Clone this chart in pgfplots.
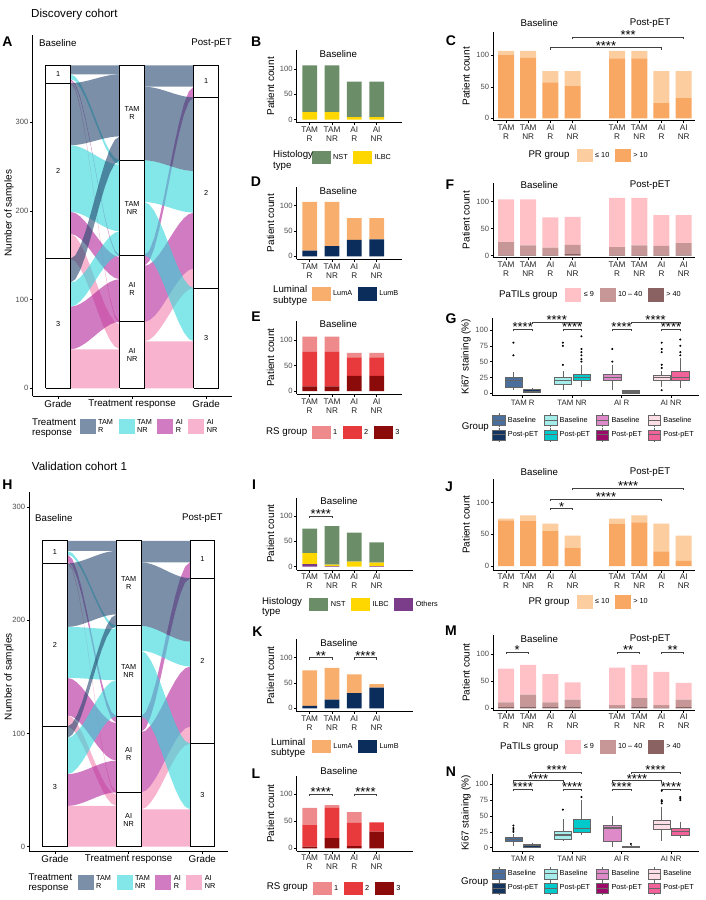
\documentclass[border=0pt]{standalone}
\usepackage{fontspec}
\setmainfont{Liberation Sans}
\usepackage{pgfplots}
\pgfplotsset{compat=1.18}
\usepackage{pgfplotstable}
\usepgfplotslibrary{statistics}

\definecolor{cTR}{HTML}{23456E}
\definecolor{cTN}{HTML}{30D5D8}
\definecolor{cAR}{HTML}{B2239A}
\definecolor{cAN}{HTML}{F382AF}
\definecolor{nst}{HTML}{6B8E69}
\definecolor{ilbc}{HTML}{FFD700}
\definecolor{oth}{HTML}{7B3C8A}
\definecolor{luma}{HTML}{F8AE6C}
\definecolor{lumb}{HTML}{0B2D5B}
\definecolor{rs1}{HTML}{EE8A8C}
\definecolor{rs2}{HTML}{E83A3C}
\definecolor{rs3}{HTML}{8B0A0A}
\definecolor{prlo}{HTML}{FBCD9F}
\definecolor{prhi}{HTML}{F8A862}
\definecolor{ptl}{HTML}{FFC0C6}
\definecolor{ptm}{HTML}{C79797}
\definecolor{pth}{HTML}{8B6262}
\definecolor{bxTRb}{HTML}{4A6F9C}
\definecolor{bxTRp}{HTML}{13355F}
\definecolor{bxTNb}{HTML}{A4EDEA}
\definecolor{bxTNp}{HTML}{00C9CC}
\definecolor{bxARb}{HTML}{DE8AC8}
\definecolor{bxARp}{HTML}{9C0A6A}
\definecolor{bxANb}{HTML}{FDDDE6}
\definecolor{bxANp}{HTML}{F2629A}

% template of one alluvial ribbon (unit shape)
\pgfplotstableread{
t s side
0 0 0
0.1 0.028 0
0.2 0.104 0
0.3 0.216 0
0.4 0.352 0
0.5 0.5 0
0.6 0.648 0
0.7 0.784 0
0.8 0.896 0
0.9 0.972 0
1 1 0
1 1 1
0.9 0.972 1
0.8 0.896 1
0.7 0.784 1
0.6 0.648 1
0.5 0.5 1
0.4 0.352 1
0.3 0.216 1
0.2 0.104 1
0.1 0.028 1
0 0 1
}\flowshape

% colour, x start, y start, y end, count
\newcommand{\alflow}[5]{\addplot[fill=#1, fill opacity=0.6, draw=none, forget plot] table[x expr={#2+\thisrow{t}*0.6667}, y expr={#3+\thisrow{side}*#5+\thisrow{s}*(#4-#3)}] {\flowshape};}
% x left, x right, y bottom, y top
\newcommand{\alstrat}[4]{\addplot[draw=black, fill=white, line width=0.6pt, forget plot] coordinates {(#1,#3) (#2,#3) (#2,#4) (#1,#4) (#1,#3)};}
% box: position, lower whisker, lower quartile, median, upper quartile, upper whisker, fill, outliers
\newcommand{\bx}[8]{\addplot[bxs, fill=#7, boxplot prepared={draw direction=y, draw position=#1, lower whisker=#2, lower quartile=#3, median=#4, upper quartile=#5, upper whisker=#6}] coordinates {#8};}

\pgfplotsset{
  gg/.style={
    scale only axis, clip=false,
    axis x line*=bottom, axis y line*=left,
    axis line style={black, line width=0.6pt},
    tick align=outside, major tick length=2.5pt,
    tick style={black, line width=0.5pt},
    /pgf/number format/assume math mode=true,
    yticklabel style={font=\fontsize{7.6}{8}\selectfont, text=black!70, inner sep=1.5pt},
    xticklabel style={font=\fontsize{8.2}{9}\selectfont, text=black!85, align=center, inner sep=1.5pt},
    legend style={draw=none, fill=none, inner sep=0pt, anchor=west,
       font=\fontsize{7.3}{8}\selectfont,
       nodes={inner xsep=2.5pt, inner ysep=1pt},
       /tikz/every even column/.append style={column sep=3pt}},
    legend columns=-1, legend cell align=left,
  },
  barax/.style={gg, ybar stacked, bar width=0.66, ytick={0,50,100},
    xtick={1,2,3,4}, xticklabels={TAM\\R,TAM\\NR,AI\\R,AI\\NR}, reverse legend},
  prax/.style={gg, ybar stacked, bar width=0.72, ytick={0,50,100}, xmin=0.428, xmax=9.51,
    xtick={1,2,3,4,6,7,8,9}, xticklabels={TAM\\R,TAM\\NR,AI\\R,AI\\NR,TAM\\R,TAM\\NR,AI\\R,AI\\NR}, reverse legend},
  ovl/.style={scale only axis, clip=false, hide axis},
  br/.style={black!75, line width=0.5pt, forget plot, mark=none},
  keyBar/.style={legend image code/.code={\fill[##1] (0pt,-6.75pt) rectangle (19pt,6.75pt);}},
  keyPR/.style={legend image code/.code={\fill[##1] (0pt,-6.75pt) rectangle (16pt,6.75pt);}},
  keyAl/.style={legend image code/.code={\fill[##1] (0pt,-7.5pt) rectangle (16pt,7.5pt);}},
  keyBox/.style={legend image code/.code={\draw[##1] (0pt,-5pt) rectangle (12.4pt,5pt); \draw[black!60, line width=1pt] (0pt,0pt) -- (12.4pt,0pt); \draw[black!60] (6.2pt,5pt) -- (6.2pt,7pt) (6.2pt,-5pt) -- (6.2pt,-7pt);}},
  bxs/.style={forget plot, draw=black!60, line width=0.5pt, solid, mark=*, mark size=0.75pt, mark options={fill=black, draw=black}, boxplot/draw direction=y, boxplot/box extend=0.35, boxplot/whisker extend=0, boxplot/every median/.style={line width=1.3pt}},
}
\tikzset{
  st/.style={anchor=base, yshift=-2.6pt, inner sep=0pt, font=\fontsize{13}{13}\selectfont},
  ttl/.style={font=\fontsize{9.7}{10.5}\selectfont, inner sep=0pt},
  ylab/.style={font=\fontsize{10}{11}\selectfont, rotate=90, inner sep=0pt},
  pl/.style={font=\bfseries\fontsize{14}{14}\selectfont, inner sep=0pt},
  lgt/.style={font=\fontsize{9.7}{10.5}\selectfont, anchor=west, align=left, inner sep=0pt},
  sl/.style={font=\fontsize{7.3}{8}\selectfont, align=center, inner sep=0pt},
}

\begin{document}
\begin{tikzpicture}[x=1pt,y=1pt]
\path[use as bounding box] (0pt,0pt) rectangle (706pt,-900pt);

% ================= A =================
\begin{axis}[gg, at={(32.5pt,-396pt)}, anchor=south west, width=199.5pt, height=361pt,
  xmin=0.655, xmax=3.35, ymin=-8.7, ymax=398.3,
  xtick={1,2,3}, xticklabels={Grade,Treatment response,Grade},
  xticklabel style={font=\fontsize{9.8}{11}\selectfont, text=black},
  ytick={0,100,200,300},
  legend style={at={(0.2356,-0.0845)}, anchor=west}]
\alflow{cAN}{1.1667}{0}{0}{44}
\alflow{cAN}{1.1667}{146}{44}{28}
\alflow{cAN}{1.1667}{344}{72}{3}
\alflow{cAR}{1.1667}{44}{75}{48}
\alflow{cAR}{1.1667}{174}{123}{25}
\alflow{cAR}{1.1667}{347}{148}{2}
\alflow{cTN}{1.1667}{92}{150}{27}
\alflow{cTN}{1.1667}{199}{177}{75}
\alflow{cTN}{1.1667}{349}{252}{5}
\alflow{cTR}{1.1667}{119}{257}{27}
\alflow{cTR}{1.1667}{274}{284}{70}
\alflow{cTR}{1.1667}{354}{354}{10}
\alflow{cAN}{2.1667}{0}{0}{53}
\alflow{cAN}{2.1667}{53}{113}{22}
\alflow{cAR}{2.1667}{75}{135}{63}
\alflow{cAR}{2.1667}{138}{328}{12}
\alflow{cTN}{2.1667}{150}{53}{60}
\alflow{cTN}{2.1667}{210}{198}{47}
\alflow{cTR}{2.1667}{257}{245}{83}
\alflow{cTR}{2.1667}{340}{340}{24}
\alstrat{0.8333}{1.1667}{0}{146}
\alstrat{0.8333}{1.1667}{146}{344}
\alstrat{0.8333}{1.1667}{344}{364}
\alstrat{1.8333}{2.1667}{0}{75}
\alstrat{1.8333}{2.1667}{75}{150}
\alstrat{1.8333}{2.1667}{150}{257}
\alstrat{1.8333}{2.1667}{257}{364}
\alstrat{2.8333}{3.1667}{0}{113}
\alstrat{2.8333}{3.1667}{113}{328}
\alstrat{2.8333}{3.1667}{328}{364}
\node[sl] at (axis cs:1,73) {3};
\node[sl] at (axis cs:1,245) {2};
\node[sl] at (axis cs:1,354) {1};
\node[sl] at (axis cs:2,37.5) {AI\\NR};
\node[sl] at (axis cs:2,112.5) {AI\\R};
\node[sl] at (axis cs:2,203.5) {TAM\\NR};
\node[sl] at (axis cs:2,310.5) {TAM\\R};
\node[sl] at (axis cs:3,56.5) {3};
\node[sl] at (axis cs:3,220.5) {2};
\node[sl] at (axis cs:3,346) {1};
\addlegendimage{keyAl, fill=cTR, fill opacity=0.6, draw=none}\addlegendentry{\shortstack[l]{TAM\\R}}
\addlegendimage{keyAl, fill=cTN, fill opacity=0.6, draw=none}\addlegendentry{\shortstack[l]{TAM\\NR}}
\addlegendimage{keyAl, fill=cAR, fill opacity=0.6, draw=none}\addlegendentry{\shortstack[l]{AI\\R}}
\addlegendimage{keyAl, fill=cAN, fill opacity=0.6, draw=none}\addlegendentry{\shortstack[l]{AI\\NR}}
\end{axis}

% ================= H =================
\begin{axis}[gg, at={(29.3pt,-851pt)}, anchor=south west, width=199pt, height=359.3pt,
  xmin=0.651, xmax=3.353, ymin=-3.8, ymax=313.3,
  xtick={1,2,3}, xticklabels={Grade,Treatment response,Grade},
  xticklabel style={font=\fontsize{9.8}{11}\selectfont, text=black},
  ytick={0,100,200,300},
  legend style={at={(0.2422,-0.0877)}, anchor=west}]
\alflow{cAN}{1.1667}{0}{0}{36}
\alflow{cAN}{1.1667}{106}{36}{10}
\alflow{cAN}{1.1667}{250}{46}{2}
\alflow{cAR}{1.1667}{36}{48}{28}
\alflow{cAR}{1.1667}{116}{76}{33}
\alflow{cAR}{1.1667}{252}{109}{6}
\alflow{cTN}{1.1667}{64}{115}{32}
\alflow{cTN}{1.1667}{149}{147}{45}
\alflow{cTN}{1.1667}{258}{192}{3}
\alflow{cTR}{1.1667}{96}{195}{10}
\alflow{cTR}{1.1667}{194}{205}{56}
\alflow{cTR}{1.1667}{261}{261}{9}
\alflow{cAN}{2.1667}{0}{0}{33}
\alflow{cAN}{2.1667}{33}{91}{15}
\alflow{cAR}{2.1667}{48}{106}{53}
\alflow{cAR}{2.1667}{101}{237}{14}
\alflow{cTN}{2.1667}{115}{33}{58}
\alflow{cTN}{2.1667}{173}{159}{22}
\alflow{cTR}{2.1667}{195}{181}{56}
\alflow{cTR}{2.1667}{251}{251}{19}
\alstrat{0.8333}{1.1667}{0}{106}
\alstrat{0.8333}{1.1667}{106}{250}
\alstrat{0.8333}{1.1667}{250}{270}
\alstrat{1.8333}{2.1667}{0}{48}
\alstrat{1.8333}{2.1667}{48}{115}
\alstrat{1.8333}{2.1667}{115}{195}
\alstrat{1.8333}{2.1667}{195}{270}
\alstrat{2.8333}{3.1667}{0}{91}
\alstrat{2.8333}{3.1667}{91}{237}
\alstrat{2.8333}{3.1667}{237}{270}
\node[sl] at (axis cs:1,53) {3};
\node[sl] at (axis cs:1,178) {2};
\node[sl] at (axis cs:1,260) {1};
\node[sl] at (axis cs:2,24) {AI\\NR};
\node[sl] at (axis cs:2,81.5) {AI\\R};
\node[sl] at (axis cs:2,155) {TAM\\NR};
\node[sl] at (axis cs:2,232.5) {TAM\\R};
\node[sl] at (axis cs:3,45.5) {3};
\node[sl] at (axis cs:3,164) {2};
\node[sl] at (axis cs:3,253.5) {1};
\addlegendimage{keyAl, fill=cTR, fill opacity=0.6, draw=none}\addlegendentry{\shortstack[l]{TAM\\R}}
\addlegendimage{keyAl, fill=cTN, fill opacity=0.6, draw=none}\addlegendentry{\shortstack[l]{TAM\\NR}}
\addlegendimage{keyAl, fill=cAR, fill opacity=0.6, draw=none}\addlegendentry{\shortstack[l]{AI\\R}}
\addlegendimage{keyAl, fill=cAN, fill opacity=0.6, draw=none}\addlegendentry{\shortstack[l]{AI\\NR}}
\end{axis}

% ================= B =================
\begin{axis}[barax, at={(296.7pt,-122.7pt)}, anchor=south west, width=105.6pt, height=72.7pt,
  xmin=0.417, xmax=5.15, ymin=-6, ymax=137.1, legend style={at={(0.140,-0.479)}, anchor=west}]
\addplot[fill=ilbc, draw=none, keyBar] coordinates {(1,15) (2,15) (3,5) (4,5)}; \addlegendentry{ILBC}
\addplot[fill=nst, draw=none, keyBar] coordinates {(1,92) (2,92) (3,70) (4,70)}; \addlegendentry{NST}
\end{axis}

% ================= D =================
\begin{axis}[barax, at={(296.7pt,-259.3pt)}, anchor=south west, width=105.6pt, height=72.6pt,
  xmin=0.417, xmax=5.15, ymin=-6, ymax=136.9, legend style={at={(0.140,-0.478)}, anchor=west}]
\addplot[fill=lumb, draw=none, keyBar] coordinates {(1,11) (2,20) (3,32) (4,33)}; \addlegendentry{LumB}
\addplot[fill=luma, draw=none, keyBar] coordinates {(1,96) (2,87) (3,43) (4,42)}; \addlegendentry{LumA}
\end{axis}

% ================= E =================
\begin{axis}[barax, at={(296.7pt,-394.3pt)}, anchor=south west, width=105.6pt, height=73.3pt,
  xmin=0.417, xmax=5.15, ymin=-6.5, ymax=137.8, legend style={at={(0.140,-0.518)}, anchor=west}]
\addplot[fill=rs3, draw=none, keyBar] coordinates {(1,9) (2,9) (3,30) (4,30)}; \addlegendentry{3}
\addplot[fill=rs2, draw=none, keyBar] coordinates {(1,68) (2,68) (3,36) (4,36)}; \addlegendentry{2}
\addplot[fill=rs1, draw=none, keyBar] coordinates {(1,30) (2,30) (3,9) (4,9)}; \addlegendentry{1}
\end{axis}

% ================= I =================
\begin{axis}[barax, at={(296.7pt,-570pt)}, anchor=south west, width=116pt, height=72.3pt,
  xmin=0.417, xmax=5.617, ymin=-6.5, ymax=136, legend style={at={(0.108,-0.480)}, anchor=west}]
\addplot[fill=oth, draw=none, keyBar] coordinates {(1,5) (2,1) (3,0) (4,1)}; \addlegendentry{Others}
\addplot[fill=ilbc, draw=none, keyBar] coordinates {(1,22) (2,3) (3,10) (4,7)}; \addlegendentry{ILBC}
\addplot[fill=nst, draw=none, keyBar] coordinates {(1,48) (2,76) (3,57) (4,40)}; \addlegendentry{NST}
\end{axis}
\begin{axis}[ovl, at={(296.7pt,-570pt)}, anchor=south west, width=116pt, height=72.3pt,
  xmin=0.417, xmax=5.617, ymin=-6.5, ymax=136]
\addplot[br] coordinates {(1,96) (1,100) (2,100) (2,96)};
\node[st] at (axis cs:1.5,100) {****};
\end{axis}

% ================= K =================
\begin{axis}[barax, at={(296.7pt,-711.7pt)}, anchor=south west, width=116pt, height=72.4pt,
  xmin=0.417, xmax=5.617, ymin=-6.7, ymax=136.4, legend style={at={(0.130,-0.483)}, anchor=west}]
\addplot[fill=lumb, draw=none, keyBar] coordinates {(1,5) (2,17) (3,30) (4,41)}; \addlegendentry{LumB}
\addplot[fill=luma, draw=none, keyBar] coordinates {(1,70) (2,63) (3,37) (4,7)}; \addlegendentry{LumA}
\end{axis}
\begin{axis}[ovl, at={(296.7pt,-711.7pt)}, anchor=south west, width=116pt, height=72.4pt,
  xmin=0.417, xmax=5.617, ymin=-6.7, ymax=136.4]
\addplot[br] coordinates {(1,96) (1,100) (2,100) (2,96)};
\node[st] at (axis cs:1.5,100) {**};
\addplot[br] coordinates {(3,96) (3,100) (4,100) (4,96)};
\node[st] at (axis cs:3.5,100) {****};
\end{axis}

% ================= L =================
\begin{axis}[barax, at={(296.7pt,-851pt)}, anchor=south west, width=116pt, height=75pt,
  xmin=0.417, xmax=5.617, ymin=-5, ymax=133.9, legend style={at={(0.136,-0.497)}, anchor=west}]
\addplot[fill=rs3, draw=none, keyBar] coordinates {(1,3) (2,19) (3,4) (4,31)}; \addlegendentry{3}
\addplot[fill=rs2, draw=none, keyBar] coordinates {(1,41) (2,56) (3,43) (4,17)}; \addlegendentry{2}
\addplot[fill=rs1, draw=none, keyBar] coordinates {(1,31) (2,5) (3,20) (4,0)}; \addlegendentry{1}
\end{axis}
\begin{axis}[ovl, at={(296.7pt,-851pt)}, anchor=south west, width=116pt, height=75pt,
  xmin=0.417, xmax=5.617, ymin=-5, ymax=133.9]
\addplot[br] coordinates {(1,96) (1,100) (2,100) (2,96)};
\node[st] at (axis cs:1.5,100) {****};
\addplot[br] coordinates {(3,96) (3,100) (4,100) (4,96)};
\node[st] at (axis cs:3.5,100) {****};
\end{axis}

% ================= C =================
\begin{axis}[prax, at={(493.3pt,-120.2pt)}, anchor=south west, width=201.7pt, height=87.9pt,
  ymin=-3, ymax=136.5, legend style={at={(0.4125,-0.4016)}, anchor=west}]
\addplot[fill=prhi, draw=none, keyPR] coordinates {(1,101) (2,96) (3,57) (4,51) (6,95) (7,95) (8,24) (9,32)}; \addlegendentry{> 10}
\addplot[fill=prlo, draw=none, keyPR] coordinates {(1,6) (2,11) (3,18) (4,24) (6,12) (7,12) (8,51) (9,43)}; \addlegendentry{≤ 10}
\end{axis}
\begin{axis}[ovl, at={(493.3pt,-120.2pt)}, anchor=south west, width=201.7pt, height=87.9pt,
  xmin=0.428, xmax=9.51, ymin=-3, ymax=136.5]
\addplot[br] coordinates {(3,109) (3,112) (8,112) (8,109)};
\node[st] at (axis cs:5.5,112) {****};
\addplot[br] coordinates {(4,125.6) (4,128.6) (9,128.6) (9,125.6)};
\node[st] at (axis cs:6.5,128.6) {***};
\end{axis}

% ================= F =================
\begin{axis}[prax, at={(493.3pt,-257.3pt)}, anchor=south west, width=201.7pt, height=74.6pt,
  ymin=-3, ymax=135, legend style={at={(0.3565,-0.502)}, anchor=west}]
\addplot[fill=pth, draw=none, keyPR] coordinates {(1,1) (2,1) (3,1) (4,3) (6,1) (7,1) (8,1) (9,2)}; \addlegendentry{> 40}
\addplot[fill=ptm, draw=none, keyPR] coordinates {(1,24) (2,18) (3,14) (4,17) (6,15) (7,18) (8,17) (9,21)}; \addlegendentry{10 – 40}
\addplot[fill=ptl, draw=none, keyPR] coordinates {(1,79) (2,85) (3,56) (4,52) (6,91) (7,88) (8,57) (9,52)}; \addlegendentry{≤ 9}
\end{axis}

% ================= J =================
\begin{axis}[prax, at={(493.3pt,-570pt)}, anchor=south west, width=201.7pt, height=90.7pt,
  ymin=-6.3, ymax=137, legend style={at={(0.4125,-0.353)}, anchor=west}]
\addplot[fill=prhi, draw=none, keyPR] coordinates {(1,72) (2,71) (3,55) (4,29) (6,67) (7,69) (8,23) (9,8)}; \addlegendentry{> 10}
\addplot[fill=prlo, draw=none, keyPR] coordinates {(1,3) (2,9) (3,12) (4,19) (6,8) (7,11) (8,44) (9,40)}; \addlegendentry{≤ 10}
\end{axis}
\begin{axis}[ovl, at={(493.3pt,-570pt)}, anchor=south west, width=201.7pt, height=90.7pt,
  xmin=0.428, xmax=9.51, ymin=-6.3, ymax=137]
\addplot[br] coordinates {(3,88) (3,91) (4,91) (4,88)};
\node[st] at (axis cs:3.5,91) {*};
\addplot[br] coordinates {(3,102.3) (3,105.3) (8,105.3) (8,102.3)};
\node[st] at (axis cs:5.5,105.3) {****};
\addplot[br] coordinates {(4,119.7) (4,122.7) (9,122.7) (9,119.7)};
\node[st] at (axis cs:6.5,122.7) {****};
\end{axis}

% ================= M =================
\begin{axis}[prax, at={(493.3pt,-710pt)}, anchor=south west, width=201.7pt, height=75pt,
  ymin=-3.1, ymax=135, legend style={at={(0.3565,-0.493)}, anchor=west}]
\addplot[fill=pth, draw=none, keyPR] coordinates {(1,2) (2,3) (3,3) (4,3) (6,1) (7,3) (8,1) (9,2)}; \addlegendentry{> 40}
\addplot[fill=ptm, draw=none, keyPR] coordinates {(1,9) (2,22) (3,8) (4,13) (6,5) (7,16) (8,5) (9,14)}; \addlegendentry{10 – 40}
\addplot[fill=ptl, draw=none, keyPR] coordinates {(1,62) (2,55) (3,52) (4,32) (6,69) (7,61) (8,61) (9,31)}; \addlegendentry{≤ 9}
\end{axis}
\begin{axis}[ovl, at={(493.3pt,-710pt)}, anchor=south west, width=201.7pt, height=75pt,
  xmin=0.428, xmax=9.51, ymin=-3.1, ymax=135]
\addplot[br] coordinates {(1,100.5) (1,104) (2,104) (2,100.5)};
\node[st] at (axis cs:1.5,104) {*};
\addplot[br] coordinates {(6,100.5) (6,104) (7,104) (7,100.5)};
\node[st] at (axis cs:6.5,104) {**};
\addplot[br] coordinates {(8,100.5) (8,104) (9,104) (9,100.5)};
\node[st] at (axis cs:8.5,104) {**};
\end{axis}

% ================= G =================
\begin{axis}[gg, at={(492.3pt,-395.7pt)}, anchor=south west, width=206.7pt, height=78pt,
  xmin=0.385, xmax=4.566, ymin=-3.8, ymax=119.4,
  xtick={1,2,3,4}, xticklabels={TAM R,TAM NR,AI R,AI NR},
  xticklabel style={font=\fontsize{7.8}{9}\selectfont},
  ytick={0,25,50,75,100}, legend columns=4,
  legend style={at={(-0.0024,-0.2218)}, anchor=north west, nodes={inner xsep=2.5pt, inner ysep=0pt}}]
\bx{0.812}{5}{10}{20}{25}{34}{bxTRb}{(0.812,60) (0.812,80)}
\bx{1.188}{0}{2}{3}{6}{8}{bxTRp}{}
\bx{1.812}{5}{15}{20}{25}{35}{bxTNb}{(1.812,45) (1.812,75) (1.812,80)}
\bx{2.188}{10}{20}{25}{30}{45}{bxTNp}{(2.188,50) (2.188,54) (2.188,60) (2.188,65) (2.188,70) (2.188,90)}
\bx{2.812}{5}{20}{25}{30}{45}{bxARb}{(2.812,50) (2.812,70)}
\bx{3.188}{0}{0}{2}{5}{5}{bxARp}{}
\bx{3.812}{10}{20}{25}{28}{35}{bxANb}{(3.812,5) (3.812,40) (3.812,45) (3.812,65) (3.812,70) (3.812,80)}
\bx{4.188}{8}{20}{25}{35}{55}{bxANp}{(4.188,60) (4.188,65) (4.188,75) (4.188,85)}
\addplot[br] coordinates {(0.812,98) (0.812,101) (1.188,101) (1.188,98)};
\node[st] at (axis cs:1,101) {****};
\addplot[br] coordinates {(1.812,98) (1.812,101) (2.188,101) (2.188,98)};
\node[st] at (axis cs:2,101) {****};
\addplot[br] coordinates {(2.812,98) (2.812,101) (3.188,101) (3.188,98)};
\node[st] at (axis cs:3,101) {****};
\addplot[br] coordinates {(3.812,98) (3.812,101) (4.188,101) (4.188,98)};
\node[st] at (axis cs:4,101) {****};
\addplot[br] coordinates {(1.188,110) (1.188,113) (2.188,113) (2.188,110)};
\node[st] at (axis cs:1.688,113) {****};
\addplot[br] coordinates {(3.188,110) (3.188,113) (4.188,113) (4.188,110)};
\node[st] at (axis cs:3.688,113) {****};
\addlegendimage{keyBox, fill=bxTRb, draw=black!60}\addlegendentry{Baseline}
\addlegendimage{keyBox, fill=bxTNb, draw=black!60}\addlegendentry{Baseline}
\addlegendimage{keyBox, fill=bxARb, draw=black!60}\addlegendentry{Baseline}
\addlegendimage{keyBox, fill=bxANb, draw=black!60}\addlegendentry{Baseline}
\addlegendimage{keyBox, fill=bxTRp, draw=black!60}\addlegendentry{Post-pET}
\addlegendimage{keyBox, fill=bxTNp, draw=black!60}\addlegendentry{Post-pET}
\addlegendimage{keyBox, fill=bxARp, draw=black!60}\addlegendentry{Post-pET}
\addlegendimage{keyBox, fill=bxANp, draw=black!60}\addlegendentry{Post-pET}
\end{axis}

% ================= N =================
\begin{axis}[gg, at={(492.3pt,-851.7pt)}, anchor=south west, width=206.7pt, height=77.4pt,
  xmin=0.385, xmax=4.566, ymin=-6.3, ymax=115.8,
  xtick={1,2,3,4}, xticklabels={TAM R,TAM NR,AI R,AI NR},
  xticklabel style={font=\fontsize{7.8}{9}\selectfont},
  ytick={0,25,50,75,100}, legend columns=4,
  legend style={at={(-0.0024,-0.1886)}, anchor=north west, nodes={inner xsep=2.5pt, inner ysep=0.5pt}}]
\bx{0.812}{2}{10}{13}{16}{22}{bxTRb}{(0.812,25) (0.812,28) (0.812,31) (0.812,35)}
\bx{1.188}{0}{1}{4}{6}{8}{bxTRp}{}
\bx{1.812}{10}{13}{20}{26}{45}{bxTNb}{(1.812,60)}
\bx{2.188}{20}{25}{30}{45}{75}{bxTNp}{(2.188,80)}
\bx{2.812}{1}{10}{31}{35}{50}{bxARb}{}
\bx{3.188}{0}{0}{1}{2}{4}{bxARp}{(3.188,6)}
\bx{3.812}{10}{29}{37}{44}{64}{bxANb}{(3.812,70) (3.812,73) (3.812,75) (3.812,90)}
\bx{4.188}{16}{20}{26}{30}{41}{bxANp}{(4.188,75) (4.188,78) (4.188,80)}
\addplot[br] coordinates {(0.812,89) (0.812,92) (1.188,92) (1.188,89)};
\node[st] at (axis cs:1,92) {****};
\addplot[br] coordinates {(1.812,89) (1.812,92) (2.188,92) (2.188,89)};
\node[st] at (axis cs:2,92) {****};
\addplot[br] coordinates {(2.812,89) (2.812,92) (3.188,92) (3.188,89)};
\node[st] at (axis cs:3,92) {****};
\addplot[br] coordinates {(3.812,89) (3.812,92) (4.188,92) (4.188,89)};
\node[st] at (axis cs:4,92) {****};
\addplot[br] coordinates {(0.812,102.7) (0.812,105.7) (1.812,105.7) (1.812,102.7)};
\node[st] at (axis cs:1.312,105.7) {****};
\addplot[br] coordinates {(2.812,102.7) (2.812,105.7) (3.812,105.7) (3.812,102.7)};
\node[st] at (axis cs:3.312,105.7) {****};
\addplot[br] coordinates {(1.188,116) (1.188,119) (2.188,119) (2.188,116)};
\node[st] at (axis cs:1.688,119) {****};
\addplot[br] coordinates {(3.188,116) (3.188,119) (4.188,119) (4.188,116)};
\node[st] at (axis cs:3.688,119) {****};
\addlegendimage{keyBox, fill=bxTRb, draw=black!60}\addlegendentry{Baseline}
\addlegendimage{keyBox, fill=bxTNb, draw=black!60}\addlegendentry{Baseline}
\addlegendimage{keyBox, fill=bxARb, draw=black!60}\addlegendentry{Baseline}
\addlegendimage{keyBox, fill=bxANb, draw=black!60}\addlegendentry{Baseline}
\addlegendimage{keyBox, fill=bxTRp, draw=black!60}\addlegendentry{Post-pET}
\addlegendimage{keyBox, fill=bxTNp, draw=black!60}\addlegendentry{Post-pET}
\addlegendimage{keyBox, fill=bxARp, draw=black!60}\addlegendentry{Post-pET}
\addlegendimage{keyBox, fill=bxANp, draw=black!60}\addlegendentry{Post-pET}
\end{axis}

% ================= texts =================
\node[anchor=west, font=\fontsize{11.6}{13}\selectfont, inner sep=0pt] at (31pt,-14pt) {Discovery cohort};
\node[anchor=west, font=\fontsize{11.6}{13}\selectfont, inner sep=0pt] at (31.7pt,-466.7pt) {Validation cohort 1};
\node[pl] at (7.5pt,-42pt) {A};
\node[pl] at (256.3pt,-41.7pt) {B};
\node[pl] at (256pt,-181.7pt) {D};
\node[pl] at (256pt,-316.7pt) {E};
\node[pl] at (451pt,-41pt) {C};
\node[pl] at (450pt,-185pt) {F};
\node[pl] at (451pt,-319pt) {G};
\node[pl] at (7.5pt,-484.2pt) {H};
\node[pl] at (254pt,-485pt) {I};
\node[pl] at (257.5pt,-631.7pt) {K};
\node[pl] at (256pt,-773.3pt) {L};
\node[pl] at (449pt,-486.7pt) {J};
\node[pl] at (451pt,-631pt) {M};
\node[pl] at (451pt,-771.7pt) {N};
% facet titles
\node[ttl, anchor=west] at (39pt,-43pt) {Baseline};
\node[ttl, anchor=east] at (232pt,-43pt) {Post-pET};
\node[ttl, anchor=west] at (35pt,-518.3pt) {Baseline};
\node[ttl, anchor=east] at (222.7pt,-518.3pt) {Post-pET};
\node[ttl] at (338.3pt,-54pt) {Baseline};
\node[ttl] at (338.3pt,-190.7pt) {Baseline};
\node[ttl] at (338.3pt,-324.3pt) {Baseline};
\node[ttl] at (339pt,-501pt) {Baseline};
\node[ttl] at (339pt,-642.7pt) {Baseline};
\node[ttl] at (339pt,-771pt) {Baseline};
\node[ttl] at (539.3pt,-22.7pt) {Baseline};
\node[ttl] at (650pt,-22.7pt) {Post-pET};
\node[ttl] at (539.3pt,-185pt) {Baseline};
\node[ttl] at (650pt,-185pt) {Post-pET};
\node[ttl] at (539.3pt,-472.3pt) {Baseline};
\node[ttl] at (650pt,-472.3pt) {Post-pET};
\node[ttl] at (539.3pt,-639pt) {Baseline};
\node[ttl] at (650pt,-639pt) {Post-pET};
% y labels
\node[ylab] at (9pt,-213.3pt) {Number of samples};
\node[ylab] at (9pt,-676.7pt) {Number of samples};
\node[ylab] at (270.5pt,-86.3pt) {Patient count};
\node[ylab] at (270.5pt,-223pt) {Patient count};
\node[ylab] at (270.5pt,-357.7pt) {Patient count};
\node[ylab] at (270.5pt,-533.8pt) {Patient count};
\node[ylab] at (270.5pt,-675.5pt) {Patient count};
\node[ylab] at (270.5pt,-813.5pt) {Patient count};
\node[ylab] at (466pt,-76.3pt) {Patient count};
\node[ylab] at (466pt,-220pt) {Patient count};
\node[ylab] at (466pt,-524.7pt) {Patient count};
\node[ylab] at (466pt,-672.5pt) {Patient count};
\node[ylab] at (466pt,-356.7pt) {Ki67 staining (\%)};
\node[ylab] at (466pt,-813pt) {Ki67 staining (\%)};
% legend titles
\node[lgt] at (32pt,-428pt) {Treatment\\response};
\node[lgt] at (28.3pt,-883.3pt) {Treatment\\response};
\node[lgt] at (273pt,-160.5pt) {Histology\\type};
\node[lgt] at (273pt,-295.5pt) {Luminal\\subtype};
\node[lgt] at (266pt,-432pt) {RS group};
\node[lgt] at (262pt,-607pt) {Histology\\type};
\node[lgt] at (271pt,-747.8pt) {Luminal\\subtype};
\node[lgt] at (266.7pt,-887.3pt) {RS group};
\node[lgt] at (528.3pt,-155.5pt) {PR group};
\node[lgt] at (528.3pt,-602.3pt) {PR group};
\node[lgt] at (499pt,-294.7pt) {PaTILs group};
\node[lgt] at (500pt,-747.3pt) {PaTILs group};
\node[lgt] at (461.7pt,-427pt) {Group};
\node[lgt] at (461pt,-881.7pt) {Group};
\end{tikzpicture}
\end{document}
